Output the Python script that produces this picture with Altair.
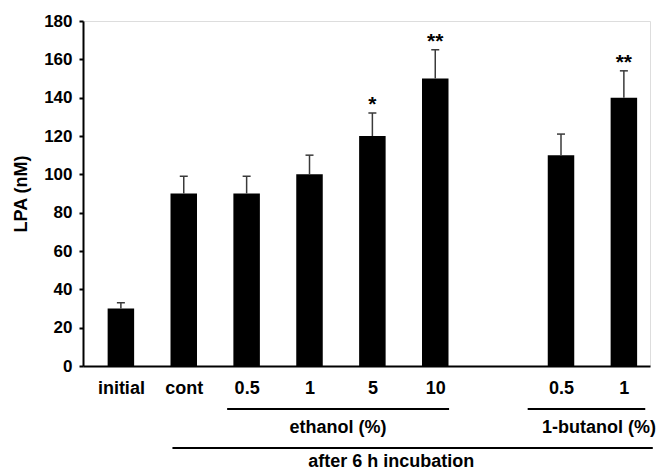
import altair as alt
import pandas as pd

# ---- data -------------------------------------------------------------
categories = ["initial", "cont", "eth_0.5", "eth_1", "eth_5", "eth_10", "gap", "but_0.5", "but_1"]
tick_labels = ["initial", "cont", "0.5", "1", "5", "10", "", "0.5", "1"]
means = [30, 90, 90, 100, 120, 150, None, 110, 140]
errors = [3, 9, 9, 10, 12, 15, None, 11, 14]
stars = ["", "", "", "", "*", "**", "", "", "**"]

group_names = ["ethanol (%)", "1-butanol (%)", "after 6 h incubation"]
group_first = ["eth_0.5", "but_0.5", "cont"]
group_last = ["eth_10", "but_1", "but_1"]

# ---- styling constants ------------------------------------------------
FONT = "Liberation Sans"
W, H = 567, 345
# line extension beyond first/last bar centres (in category steps)
pad_left = [0.31, 0.53, 0.18]
pad_right = [0.22, 0.34, 0.46]
label_shift = [0.0, 0.2, -0.34]
line_rows = [0, 0, 1]
LINE_Y = [388, 427]
TEXT_Y = [412, 446]

rows = []
for i, c in enumerate(categories):
    if means[i] is None:
        continue
    rows.append({"cat": c, "pos": i, "mean": means[i],
                 "top": means[i] + errors[i], "star": stars[i]})
df = pd.DataFrame(rows)

grows = []
for k, g in enumerate(group_names):
    a = categories.index(group_first[k]) - pad_left[k]
    b = categories.index(group_last[k]) + pad_right[k]
    grows.append({"name": g, "x1": a, "x2": b, "xc": (a + b) / 2 + label_shift[k],
                  "ly": LINE_Y[line_rows[k]], "ty": TEXT_Y[line_rows[k]]})
gdf = pd.DataFrame(grows)

label_arr = "[" + ",".join("'" + t + "'" for t in tick_labels) + "]"

xscale = alt.Scale(domain=[-0.523, len(categories) - 1 + 0.336], nice=False, zero=False)
yscale = alt.Scale(domain=[0, 180], nice=False)

x_axis = alt.Axis(
    values=[i for i, m in enumerate(means) if m is not None],
    labelExpr=label_arr + "[datum.value]",
    ticks=False, grid=False, title=None, labelOverlap=False,
    domainColor="black", domainWidth=2,
    labelFont=FONT, labelFontSize=18, labelFontWeight="bold", labelColor="black",
    labelPadding=13, labelBaseline="top",
)
y_axis = alt.Axis(
    values=list(range(0, 181, 20)), grid=False, title="LPA (nM)",
    labelOverlap=False, labelBound=False, labelFlush=False,
    domainColor="black", domainWidth=2, tickColor="black", tickWidth=2, tickSize=4,
    labelFont=FONT, labelFontSize=17, labelFontWeight="bold", labelColor="black",
    labelPadding=7, titleFont=FONT, titleFontSize=18, titleFontWeight="bold",
    titleColor="black", titlePadding=13,
)

X = alt.X("pos:Q", scale=xscale, axis=x_axis)

base = alt.Chart(df)

bars = base.mark_bar(size=26.5, color="black").encode(
    x=X,
    y=alt.Y("mean:Q", scale=yscale, axis=y_axis),
)

err = base.mark_rule(color="#3a3a3a", strokeWidth=1.5).encode(
    x=X, y=alt.Y("mean:Q", scale=yscale, axis=y_axis), y2="top:Q"
)
cap = base.mark_rule(color="#3a3a3a", strokeWidth=1.5, xOffset=-4, x2Offset=4).encode(
    x=X, x2="pos:Q", y=alt.Y("top:Q", scale=yscale, axis=y_axis)
)
star_text = base.mark_text(font=FONT, fontSize=21, fontWeight="bold", color="black",
                           baseline="alphabetic", dy=-2).encode(
    x=X, y=alt.Y("top:Q", scale=yscale, axis=y_axis), text="star:N"
)

glines = alt.Chart(gdf).mark_rule(color="black", strokeWidth=2).encode(
    x=alt.X("x1:Q", scale=xscale, axis=x_axis), x2="x2:Q", y=alt.Y("ly:Q", scale=None)
)
gtext = alt.Chart(gdf).mark_text(font=FONT, fontSize=18, fontWeight="bold", color="black",
                                 baseline="alphabetic", align="center").encode(
    x=alt.X("xc:Q", scale=xscale, axis=x_axis), y=alt.Y("ty:Q", scale=None), text="name:N"
)

chart = alt.layer(bars, err, cap, star_text, glines, gtext).properties(
    width=W, height=H,
    autosize=alt.AutoSizeParams(type="none"),
    padding={"left": 83, "top": 21, "right": 15, "bottom": 108},
).configure_view(stroke=None).configure(background="white")

chart.save("out.html", embed_options={"renderer": "svg", "actions": False})
